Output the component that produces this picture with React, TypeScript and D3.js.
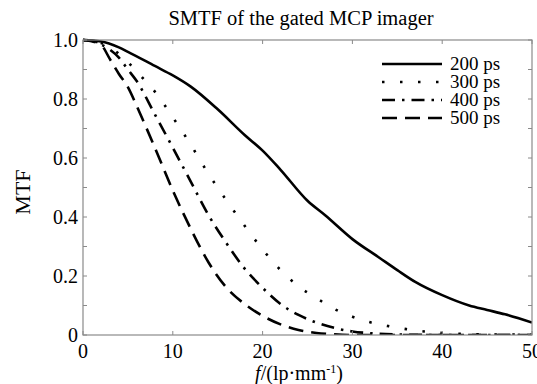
import * as d3 from 'd3';

const freq200 = [0, 2, 4, 5, 8, 10, 12, 15, 18, 20, 22, 25, 27, 30, 33, 35, 37, 40, 43, 45, 47, 50];
const mtf200 = [1.0, 0.995, 0.975, 0.96, 0.912, 0.88, 0.842, 0.765, 0.678, 0.625, 0.56, 0.455, 0.405, 0.325, 0.262, 0.22, 0.18, 0.135, 0.1, 0.085, 0.07, 0.042];

const freq300 = [0, 2, 4, 5, 6, 8, 10, 12, 14, 16, 18, 20, 22, 24, 26, 28, 30, 32, 34, 36, 38, 40, 42, 45, 50];
const mtf300 = [1.0, 0.99, 0.953, 0.925, 0.892, 0.825, 0.738, 0.645, 0.545, 0.455, 0.37, 0.29, 0.22, 0.165, 0.125, 0.088, 0.062, 0.043, 0.03, 0.02, 0.012, 0.007, 0.004, 0.002, 0.001];

const freq400 = [0, 2, 4, 5, 6, 8, 10, 12, 14, 16, 18, 20, 22, 24, 26, 28, 30, 32, 35, 40, 50];
const mtf400 = [1.0, 0.985, 0.94, 0.9, 0.86, 0.748, 0.635, 0.52, 0.405, 0.31, 0.225, 0.16, 0.105, 0.068, 0.042, 0.024, 0.012, 0.006, 0.002, 0.0, 0.0];

const freq500 = [0, 1, 2, 3, 4, 5, 6, 8, 10, 12, 14, 16, 18, 20, 22, 24, 26, 28, 30, 50];
const mtf500 = [1.0, 0.998, 0.985, 0.935, 0.885, 0.84, 0.775, 0.635, 0.49, 0.36, 0.245, 0.16, 0.105, 0.065, 0.036, 0.017, 0.007, 0.002, 0.0, 0.0];

const seriesNames = ['200 ps', '300 ps', '400 ps', '500 ps'];
const xTicks = [0, 10, 20, 30, 40, 50];
const yTicks = [0, 0.2, 0.4, 0.6, 0.8, 1.0];
const yMinor = d3.range(0, 1.01, 0.1);

const dashes = ['', '2.5 15.5', '13 7 2.5 7', '15 8'];

export default function App() {
  const W = 537, H = 384;
  const left = 83, right = 532, top = 40, bottom = 335;

  const x = d3.scaleLinear().domain([0, 50]).range([left, right]);
  const y = d3.scaleLinear().domain([0, 1]).range([bottom, top]);

  const line = d3.line<[number, number]>()
    .x(d => x(d[0]))
    .y(d => y(d[1]))
    .curve(d3.curveMonotoneX);

  const series = [
    d3.zip(freq200, mtf200),
    d3.zip(freq300, mtf300),
    d3.zip(freq400, mtf400),
    d3.zip(freq500, mtf500),
  ] as [number, number][][];

  const axisCol = '#8a8a8a';
  const font = "'Liberation Serif', 'DejaVu Serif', serif";

  return (
    <svg width={W} height={H} style={{ position: 'absolute', left: 0, top: 0, background: '#fff', fontFamily: font }}>
      <defs>
        <clipPath id="plot">
          <rect x={left} y={top - 3} width={right - left} height={bottom - top + 3} />
        </clipPath>
      </defs>

      {/* title */}
      <text x={301} y={25} textAnchor="middle" fontSize={20.5}>SMTF of the gated MCP imager</text>

      {/* curves */}
      <g clipPath="url(#plot)">
        {series.map((s, i) => (
          <path key={i} d={line(s) || ''} fill="none" stroke="#000"
            strokeWidth={2.6} strokeDasharray={dashes[i] || undefined} />
        ))}
      </g>

      {/* frame */}
      <rect x={left} y={top} width={right - left} height={bottom - top} fill="none" stroke={axisCol} strokeWidth={1.2} />

      {/* x ticks, bottom + top */}
      {xTicks.map(t => (
        <g key={'x' + t}>
          <line x1={x(t)} x2={x(t)} y1={bottom} y2={bottom - 4} stroke={axisCol} />
          <line x1={x(t)} x2={x(t)} y1={top} y2={top + 4} stroke={axisCol} />
          <text x={x(t)} y={bottom + 23} textAnchor="middle" fontSize={20}>{t}</text>
        </g>
      ))}

      {/* y ticks, left + right */}
      {yMinor.map(t => (
        <g key={'ym' + t}>
          <line x1={left} x2={left + 4} y1={y(t)} y2={y(t)} stroke={axisCol} />
          <line x1={right} x2={right - 4} y1={y(t)} y2={y(t)} stroke={axisCol} />
        </g>
      ))}
      {yTicks.map(t => (
        <text key={'y' + t} x={left - 5} y={y(t) + 7} textAnchor="end" fontSize={20}>
          {t === 0 ? '0' : d3.format('.1f')(t)}
        </text>
      ))}

      {/* axis labels */}
      <text transform={`translate(30,192) rotate(-90)`} textAnchor="middle" fontSize={22}>MTF</text>
      <text x={299} y={380} textAnchor="middle" fontSize={20}>
        <tspan fontStyle="italic">f</tspan>/(lp·mm<tspan dy={-7} fontSize={12}>-1</tspan><tspan dy={7}>)</tspan>
      </text>

      {/* legend */}
      {seriesNames.map((n, i) => (
        <g key={n} transform={`translate(0,${64 + i * 18})`}>
          <line x1={382} x2={442} y1={0} y2={0} stroke="#000" strokeWidth={2.6}
            strokeDasharray={dashes[i] || undefined} />
          <text x={450} y={6} fontSize={19}>{n}</text>
        </g>
      ))}
    </svg>
  );
}
